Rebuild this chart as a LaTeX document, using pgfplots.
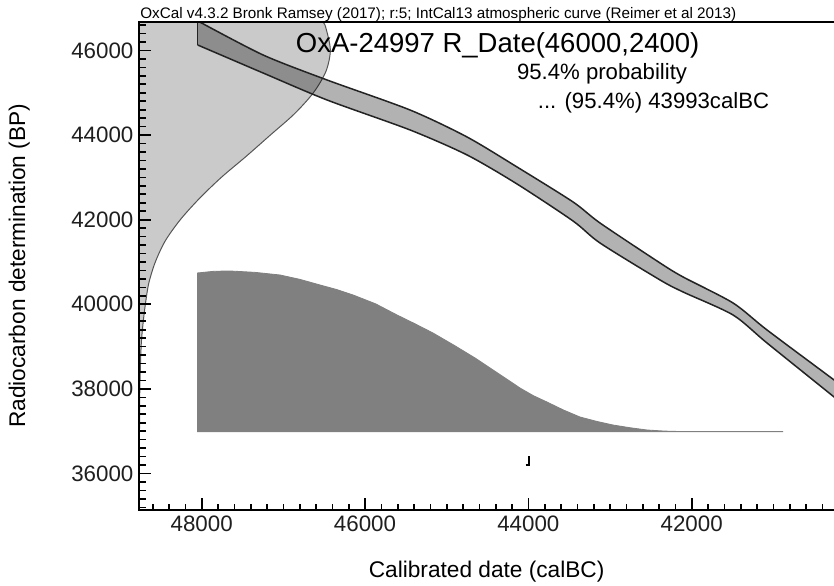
\documentclass[border=0pt]{standalone}
\usepackage{pgfplots}
\pgfplotsset{compat=1.18}
\usepackage{fontspec}
\setmainfont{Liberation Sans}

\definecolor{normfill}{RGB}{202,202,202}
\definecolor{normline}{RGB}{85,85,85}
\definecolor{bandfill}{RGB}{178,178,178}
\definecolor{bandline}{RGB}{35,35,35}
\definecolor{postfill}{RGB}{128,128,128}

\begin{document}
\begin{tikzpicture}
\begin{axis}[
  axis on top,
  scale only axis, width=420.8pt, height=293pt,
  x dir=reverse,
  xmin=40176, xmax=48764, ymin=35137, ymax=46681,
  axis line style={line width=1.3pt, black},
  xtick={42000,44000,46000,48000},
  ytick={36000,38000,40000,42000,44000,46000},
  minor xtick={40400,40600,...,48600},
  minor ytick={35200,35400,...,46600},
  tick align=inside, xtick pos=left, ytick pos=left,
  major tick length=7pt, minor tick length=3.8pt,
  tick style={line width=1pt, black},
  minor tick style={line width=1pt, black},
  scaled ticks=false,
  /pgf/number format/1000 sep={},
  /pgf/number format/assume math mode=true,
  ticklabel style={font=\fontsize{13.4}{15}\selectfont, text=black!88},
  clip mode=individual,
  xlabel={Calibrated date (calBC)},
  ylabel={Radiocarbon determination (BP)},
  every axis x label/.style={at={(axis description cs:0.4952,-0.1372)}, anchor=base,
    font=\fontsize{13.6}{16}\selectfont},
  every axis y label/.style={at={(axis description cs:-0.1629,0.5)}, rotate=90, anchor=base,
    font=\fontsize{13.6}{16}\selectfont},
  title={OxCal v4.3.2 Bronk Ramsey (2017); r:5; IntCal13 atmospheric curve (Reimer et al 2013)},
  every axis title/.style={at={(axis description cs:0.001,1)}, anchor=base west, yshift=2pt,
    inner sep=0pt, font=\fontsize{9.15}{11}\selectfont},
]

% R_Date(46000,2400) on the radiocarbon axis
\addplot[fill=normfill, draw=normline, line width=0.6pt, smooth] coordinates {
  (48764,35100) (48764,36000) (48762,37000) (48758,38000) (48742,39000)
  (48721,39500) (48690,40000) (48648,40500) (48568,41000) (48446,41500)
  (48262,42000) (48029,42500) (47760,43000) (47454,43500) (47160,44000)
  (46866,44500) (46633,45000) (46480,45500) (46425,46000) (46475,46500)
  (46523,46700) (46700,47000) (49000,47000) (49000,35000) (48764,35000)
};

% calibrated probability distribution
\addplot[fill=postfill, draw=postfill, line width=0.5pt] coordinates {
  (48050,36990) (48050,40740) (47850,40780) (47653,40787) (47350,40755)
  (47041,40692) (46800,40590) (46551,40456) (46350,40350) (46147,40220)
  (45870,40010) (45609,39747) (45390,39540) (45168,39321) (44900,39020)
  (44653,38730) (44380,38380) (44102,38020) (43940,37840) (43772,37689)
  (43570,37500) (43368,37335) (43160,37230) (42964,37146) (42750,37080)
  (42547,37028) (42340,37003) (42143,36992) (40882,36990)
} -- cycle;

% IntCal13 calibration band: fill (upper edge, then lower edge back)
\addplot[fill=bandfill, draw=none, smooth, tension=0.45, blend mode=multiply] coordinates {
  (48050,46700) (47249,45894) (46466,45303) (45449,44593) (44751,43955)
  (44139,43246) (43453,42419) (43123,41922) (42388,40977) (42106,40646)
  (41494,40031) (41078,39393) (40257,38211) (40000,37832)
  (40000,37407) (40257,37809) (41078,39085) (41494,39747) (42106,40291)
  (42388,40575) (43123,41449) (43453,41969) (44139,42844) (44751,43530)
  (45449,44121) (46466,44830) (47249,45468) (48050,46130)
} -- cycle;
% band outlines
\addplot[draw=bandline, line width=0.9pt, smooth, tension=0.45] coordinates {
  (48050,46700) (47249,45894) (46466,45303) (45449,44593) (44751,43955)
  (44139,43246) (43453,42419) (43123,41922) (42388,40977) (42106,40646)
  (41494,40031) (41078,39393) (40257,38211) (40000,37832)
};
\addplot[draw=bandline, line width=0.9pt, smooth, tension=0.45] coordinates {
  (48050,46130) (47249,45468) (46466,44830) (45449,44121) (44751,43530)
  (44139,42844) (43453,41969) (43123,41449) (42388,40575) (42106,40291)
  (41494,39747) (41078,39085) (40257,37809) (40000,37407)
};
\addplot[draw=bandline, line width=0.9pt] coordinates {(48050,46130) (48050,46700)};

% 95.4% range end
\addplot[black, line width=1.2pt] coordinates {(44035,36205) (43993,36205) (43993,36420)};

\node[anchor=base west, font=\fontsize{16.5}{19}\selectfont] at (rel axis cs:0.2148,0.9359)
  {OxA-24997 R\_Date(46000,2400)};
\node[anchor=base east, font=\fontsize{13.3}{16}\selectfont] at (rel axis cs:0.7894,0.8806)
  {95.4\% probability};
\node[anchor=base west, font=\fontsize{13.3}{16}\selectfont] at (rel axis cs:0.5599,0.8212)
  {... (95.4\%) 43993calBC};

\coordinate (bl) at (rel axis cs:0,0);
\end{axis}
\pgfresetboundingbox
\path[use as bounding box] ([shift={(-83.6pt,-45pt)}]bl) rectangle ([shift={(416.8pt,306pt)}]bl);
\end{tikzpicture}
\end{document}
